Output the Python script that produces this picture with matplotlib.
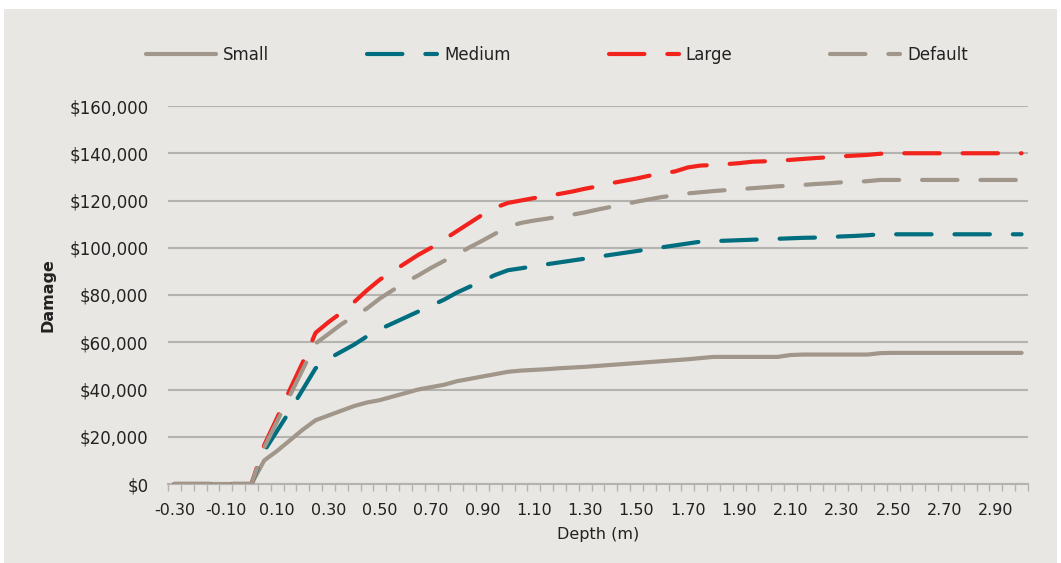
import numpy as np
import matplotlib
matplotlib.use("Agg")
import matplotlib.pyplot as plt
from matplotlib.patches import Rectangle
from matplotlib.ticker import FuncFormatter, FixedLocator

# profundidad en pasos de 0.05 m, de -0.30 a 3.00
depth = [round(-0.30 + 0.05 * i, 2) for i in range(67)]

small = [0, 0, 0, 0, 0, 0, 0,
         10000, 14000, 18500, 23000, 27000,
         29000, 31000, 33000, 34500, 35500, 37000, 38500, 40000, 41000, 42000,
         43500, 44500, 45500, 46500, 47500,
         48000, 48300, 48600, 49000, 49300, 49600, 50000, 50400, 50800, 51200,
         51600, 52000, 52400, 52800, 53300, 53800,
         53800, 53800, 53800, 53800, 53800, 54600,
         54800, 54800, 54800, 54800, 54800, 54800, 55400,
         55500, 55500, 55500, 55500, 55500, 55500, 55500, 55500, 55500, 55500, 55500]

medium = [0, 0, 0, 0, 0, 0, 0,
          14000, 22500, 31000, 40000, 49000,
          53000, 56000, 59000, 62500, 65500, 68000, 70500, 73000, 75500, 78000,
          81000, 83500, 86000, 88500, 90500,
          91300, 92200, 93000, 93800, 94600, 95400, 96200, 97000, 97800, 98600,
          99400, 100200, 101000, 101800, 102600, 102800,
          103000, 103200, 103400, 103600, 103800, 104000,
          104200, 104300, 104500, 104800, 105000, 105300, 105700,
          105700, 105700, 105700, 105700, 105700, 105700, 105700, 105700, 105700, 105700, 105700]

large = [0, 0, 0, 0, 0, 0, 0,
         16500, 28000, 40000, 51500, 64000,
         68500, 72500, 77000, 82000, 86500, 90000, 93500, 97000, 100000, 103500,
         107000, 110500, 114000, 117000, 119000,
         120000, 121000, 122000, 122800, 123800, 125000, 126000, 127300, 128300, 129300,
         130500, 131500, 132300, 134000, 134800, 135000,
         135400, 135800, 136400, 136600, 136800, 137200,
         137600, 138000, 138300, 138700, 139000, 139300, 139800,
         140000, 140000, 140000, 140000, 140000, 140000, 140000, 140000, 140000, 140000, 140000]

default = [0, 0, 0, 0, 0, 0, 0,
           15500, 26500, 37500, 48500, 59500,
           63500, 67600, 71000, 74300, 78500, 82000, 85400, 88300, 91500, 94400,
           97200, 100200, 103000, 106000, 109000,
           110500, 111500, 112300, 113200, 114000, 115000, 116200, 117300, 118300, 119500,
           120500, 121500, 122200, 123000, 123500, 124000,
           124400, 124800, 125200, 125600, 126000, 126300,
           126600, 127000, 127300, 127700, 127800, 128200, 128700,
           128700, 128700, 128700, 128700, 128700, 128700, 128700, 128700, 128700, 128700, 128700]

y_ticks = [0, 20000, 40000, 60000, 80000, 100000, 120000, 140000, 160000]

c_taupe = '#A0968A'
c_teal = '#006E7E'
c_red = '#F2231C'
c_bg = '#E9E7E3'
c_grid = '#B5B3B0'

plt.rcParams['font.family'] = ['DejaVu Sans']

fig = plt.figure(figsize=(10.61, 5.63), dpi=100, facecolor='white')
fig.patches.append(Rectangle((4 / 1061, 0), 1053 / 1061, 1 - 9 / 563,
                             transform=fig.transFigure, facecolor=c_bg,
                             edgecolor='none', zorder=-10))

ax = fig.add_axes([168 / 1061, 1 - 484 / 563, 860 / 1061, 378 / 563])
ax.set_facecolor(c_bg)
ax.patch.set_alpha(0)

x = np.arange(len(depth))
dash = (8.5, 5.5)
ax.plot(x, small, color=c_taupe, lw=3, solid_capstyle='round', label='Small', zorder=3)
ax.plot(x, medium, color=c_teal, lw=3, dashes=dash, dash_capstyle='round', label='Medium', zorder=3)
ax.plot(x, large, color=c_red, lw=3, dashes=dash, dash_capstyle='round', label='Large', zorder=3)
ax.plot(x, default, color=c_taupe, lw=3, dashes=dash, dash_capstyle='round', label='Default', zorder=3)

ax.set_xlim(-0.5, len(depth) - 0.5)
ax.set_ylim(0, 160000)
ax.set_yticks(y_ticks)
ax.yaxis.set_major_formatter(FuncFormatter(lambda v, p: '${:,.0f}'.format(v)))
ax.grid(axis='y', color=c_grid, lw=1.5, zorder=1)
ax.set_axisbelow(True)

lab_idx = list(range(0, len(depth), 4))
ax.set_xticks(lab_idx)
ax.set_xticklabels(['{:.2f}'.format(depth[i]) for i in lab_idx])
ax.xaxis.set_minor_locator(FixedLocator(np.arange(-0.5, len(depth), 1.0)))
ax.tick_params(axis='x', which='major', length=0, pad=14, labelsize=11.5, colors='#222222')
ax.tick_params(axis='x', which='minor', length=5, width=1, color=c_grid)
ax.tick_params(axis='y', length=0, pad=14, labelsize=12, colors='#222222')

for s in ['top', 'right', 'left']:
    ax.spines[s].set_visible(False)
ax.spines['bottom'].set_color(c_grid)
ax.spines['bottom'].set_linewidth(1.5)

ax.set_xlabel('Depth (m)', fontsize=11.5, color='#222222', labelpad=6)
ax.set_ylabel('Damage', fontsize=11.5, fontweight='bold', color='#222222', labelpad=10)

leg = fig.legend(loc='center', bbox_to_anchor=(557 / 1061, 1 - 55 / 563), ncol=4,
                 frameon=False, fontsize=12, handlelength=4.2, handletextpad=0.4,
                 columnspacing=5.9)
for t in leg.get_texts():
    t.set_color('#222222')

fig.savefig('out.png', dpi=100, facecolor=fig.get_facecolor())
